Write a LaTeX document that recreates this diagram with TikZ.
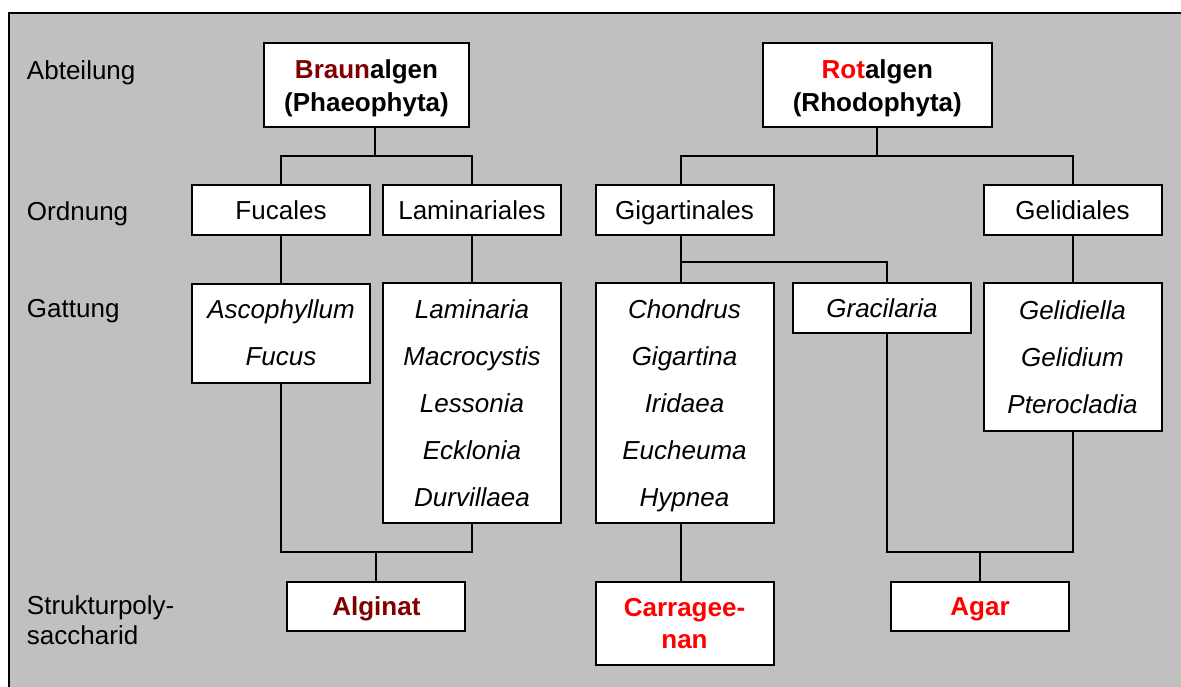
\documentclass[tikz,border=0pt]{standalone}
\usepackage{fontspec}
\setmainfont{Liberation Sans}
\definecolor{bgray}{HTML}{C0C0C0}
\definecolor{braun}{HTML}{800000}
\definecolor{rot}{HTML}{FF0000}
\begin{document}
\begin{tikzpicture}[x=1pt,y=-1pt,line width=2pt,
  box/.style={draw=black,fill=white,line width=2pt,inner sep=0pt,align=center,
    font=\fontsize{26}{31}\selectfont},
  head/.style={box,font=\fontsize{26}{33}\selectfont\bfseries},
  plain/.style={box,minimum width=178pt,minimum height=50pt,text height=19.5pt,text depth=0pt},
  genus/.style={box,minimum width=178pt,font=\fontsize{26}{47}\selectfont\itshape},
  poly/.style={box,minimum width=178pt,font=\fontsize{26}{31.5}\selectfont\bfseries},
  lbl/.style={anchor=west,inner sep=0pt,align=left,font=\fontsize{26}{30}\selectfont}]
\useasboundingbox (0,0) rectangle (1181,686);
\clip (0,0) rectangle (1181,686);
\fill[bgray] (9,13) rectangle (1200,700);
\draw (9,700) -- (9,13) -- (1200,13);
% row labels
\node[lbl] (abt) at (26,73) {Abteilung};
\node[lbl] (ord) at (26,214) {Ordnung};
\node[lbl] (gat) at (26,311) {Gattung};
\node[lbl] (spo) at (26,620) {Strukturpoly-\\saccharid};
% Abteilung
\node[head,minimum width=205pt,minimum height=84pt] (braunb) at (366.5,84.7) {\rule{0pt}{25pt}\textcolor{braun}{Braun}algen\\(Phaeophyta)};
\node[head,minimum width=229pt,minimum height=84pt] (rotb) at (877.3,84.7) {\rule{0pt}{25pt}\textcolor{rot}{Rot}algen\\(Rhodophyta)};
% Ordnung
\node[plain] (fuc) at (281,210) {Fucales};
\node[plain] (lam) at (472,210) {Laminariales};
\node[plain] (gig) at (684.5,210) {Gigartinales};
\node[plain] (gel) at (1072.5,210) {Gelidiales};
% Gattung
\node[genus,minimum height=99pt] (asco) at (281,333) {Ascophyllum\\Fucus};
\node[genus,minimum height=240pt] (lamg) at (472,403.3) {Laminaria\\Macrocystis\\Lessonia\\Ecklonia\\Durvillaea};
\node[genus,minimum height=240pt] (chon) at (684.5,403.3) {\rule{0pt}{24pt}Chondrus\\Gigartina\\Iridaea\\Eucheuma\\Hypnea};
\node[genus,minimum height=50pt] (grac) at (882,308.3) {Gracilaria};
\node[genus,minimum height=148pt] (geli) at (1072.5,357.2) {Gelidiella\\Gelidium\\Pterocladia};
% Strukturpolysaccharid
\node[poly,minimum height=49pt,text=braun,text height=19.5pt,text depth=0pt] (alg) at (376.4,606.2) {Alginat};
\node[poly,minimum height=83pt,text=rot] (car) at (684.5,623.3) {Carragee-\\nan};
\node[poly,minimum height=49pt,text=rot,text height=19.5pt,text depth=0pt] (agar) at (980,606.2) {Agar};
% connectors
\coordinate (bbar) at (375,155.7);
\coordinate (rbar) at (877,155.7);
\coordinate (gbar) at (887,261.7);
\coordinate (abar) at (376.4,551.7);
\coordinate (cbar) at (980,551.7);
\draw ([xshift=8.5pt]braunb.south) -- (bbar);
\draw (fuc.north) |- (lam.north |- bbar) -- (lam.north);
\draw (rotb.south) -- (rotb.south |- rbar);
\draw ([xshift=-4pt]gig.north) |- (gel.north |- rbar) -- (gel.north);
\draw (fuc.south) -- (asco.north);
\draw (lam.south) -- (lamg.north);
\draw ([xshift=-4pt]gig.south) -- ([xshift=-4pt]chon.north);
\draw ([xshift=-4pt]gig.south |- gbar) -| ([xshift=5pt]grac.north);
\draw (gel.south) -- (geli.north);
\draw (asco.south) |- (lamg.south |- abar) -- (lamg.south);
\draw (abar) -- (alg.north);
\draw ([xshift=-4pt]chon.south) -- ([xshift=-4pt]car.north);
\draw ([xshift=5pt]grac.south) |- (geli.south |- cbar) -- (geli.south);
\draw (cbar) -- (agar.north);
\end{tikzpicture}
\end{document}
